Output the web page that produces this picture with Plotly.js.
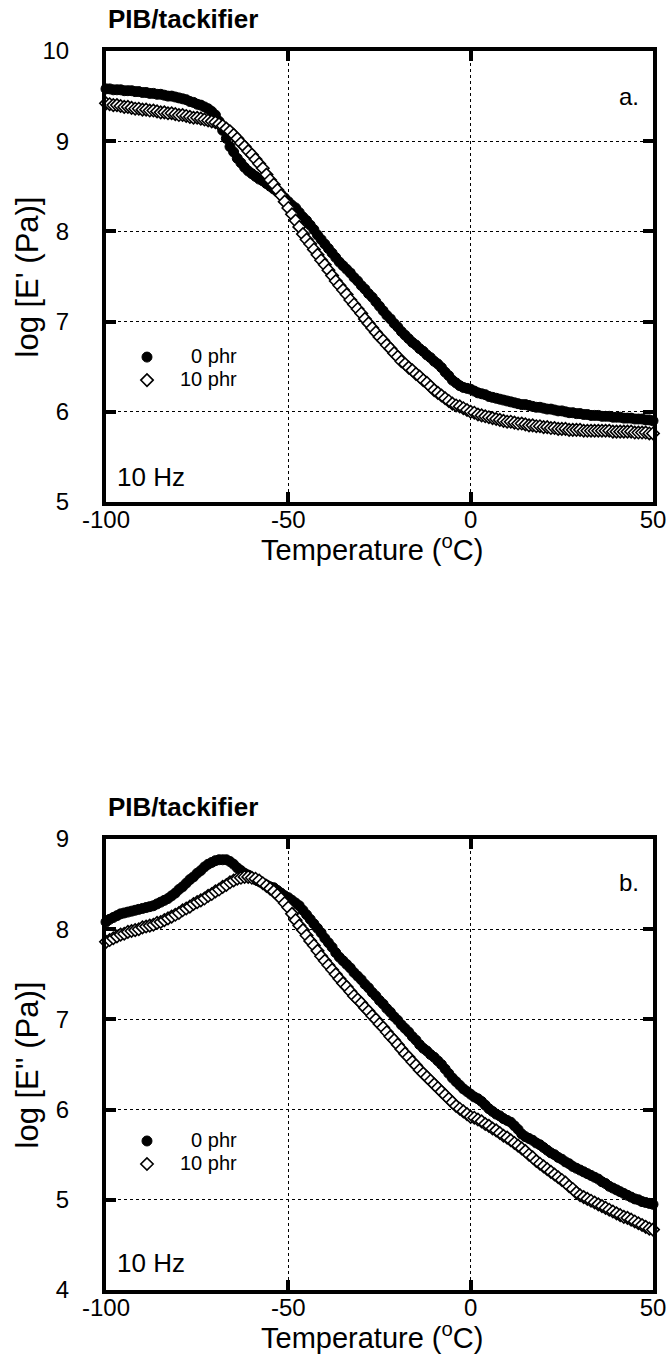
<!DOCTYPE html>
<html>
<head>
<meta charset="utf-8">
<script src="https://cdn.plot.ly/plotly-3.0.1.min.js"></script>
<style>html,body{margin:0;padding:0;background:#fff;}#chart{width:669px;height:1364px;}</style>
</head>
<body>
<div id="chart"></div>
<script>
// Temperature (°C)
const temperature = [
-100,-99,-98,-97,-96,-95,-94,-93,-92,-91,
-90,-89,-88,-87,-86,-85,-84,-83,-82,-81,
-80,-79,-78,-77,-76,-75,-74,-73,-72,-71,
-70,-69,-68,-67,-66,-65,-64,-63,-62,-61,
-60,-59,-58,-57,-56,-55,-54,-53,-52,-51,
-50,-49,-48,-47,-46,-45,-44,-43,-42,-41,
-40,-39,-38,-37,-36,-35,-34,-33,-32,-31,
-30,-29,-28,-27,-26,-25,-24,-23,-22,-21,
-20,-19,-18,-17,-16,-15,-14,-13,-12,-11,
-10,-9,-8,-7,-6,-5,-4,-3,-2,-1,
0,1,2,3,4,5,6,7,8,9,
10,11,12,13,14,15,16,17,18,19,
20,21,22,23,24,25,26,27,28,29,
30,31,32,33,34,35,36,37,38,39,
40,41,42,43,44,45,46,47,48,49,
50];

// log E' (Pa), 0 phr
const storage0phr = [
9.58,9.58,9.57,9.57,9.57,9.56,9.56,9.56,9.55,9.55,
9.54,9.54,9.53,9.53,9.52,9.52,9.51,9.50,9.50,9.49,
9.48,9.47,9.46,9.44,9.43,9.41,9.40,9.38,9.36,9.33,
9.29,9.22,9.12,9.03,8.94,8.88,8.81,8.76,8.71,8.67,
8.64,8.61,8.58,8.56,8.53,8.50,8.47,8.44,8.41,8.37,
8.33,8.29,8.26,8.21,8.16,8.12,8.07,8.02,7.96,7.91,
7.86,7.81,7.76,7.71,7.66,7.62,7.58,7.54,7.49,7.45,
7.40,7.36,7.31,7.27,7.22,7.17,7.12,7.07,7.03,6.98,
6.94,6.89,6.85,6.81,6.77,6.74,6.70,6.67,6.63,6.60,
6.56,6.53,6.49,6.44,6.40,6.35,6.32,6.29,6.27,6.26,
6.25,6.23,6.21,6.20,6.19,6.17,6.16,6.15,6.14,6.13,
6.12,6.11,6.10,6.09,6.08,6.08,6.07,6.06,6.05,6.05,
6.04,6.03,6.03,6.02,6.01,6.01,6.00,5.99,5.99,5.98,
5.98,5.97,5.97,5.96,5.96,5.96,5.95,5.95,5.95,5.94,
5.94,5.94,5.93,5.93,5.93,5.92,5.92,5.92,5.91,5.91,
5.90];

// log E' (Pa), 10 phr
const storage10phr = [
9.42,9.41,9.40,9.40,9.39,9.38,9.38,9.37,9.36,9.36,
9.35,9.35,9.34,9.34,9.33,9.32,9.32,9.31,9.31,9.30,
9.29,9.29,9.28,9.27,9.26,9.26,9.25,9.24,9.23,9.22,
9.21,9.19,9.17,9.14,9.11,9.07,9.03,8.98,8.94,8.89,
8.85,8.80,8.75,8.70,8.63,8.57,8.52,8.46,8.40,8.33,
8.26,8.19,8.12,8.05,7.97,7.91,7.86,7.80,7.74,7.68,
7.63,7.57,7.51,7.45,7.40,7.35,7.30,7.24,7.19,7.14,
7.09,7.03,6.98,6.93,6.88,6.83,6.79,6.74,6.70,6.65,
6.61,6.56,6.53,6.49,6.46,6.42,6.39,6.35,6.32,6.28,
6.24,6.21,6.18,6.15,6.12,6.09,6.07,6.06,6.04,6.02,
6.00,5.99,5.97,5.96,5.95,5.94,5.93,5.92,5.91,5.90,
5.89,5.89,5.88,5.87,5.87,5.86,5.85,5.85,5.84,5.84,
5.83,5.83,5.82,5.82,5.81,5.81,5.81,5.80,5.80,5.80,
5.80,5.79,5.79,5.79,5.79,5.79,5.79,5.79,5.79,5.78,
5.78,5.78,5.78,5.78,5.78,5.77,5.77,5.77,5.77,5.76,
5.76];

// log E'' (Pa), 0 phr
const loss0phr = [
8.08,8.11,8.13,8.15,8.17,8.18,8.19,8.20,8.21,8.22,
8.23,8.24,8.25,8.26,8.28,8.30,8.32,8.34,8.37,8.40,
8.44,8.47,8.51,8.55,8.58,8.62,8.65,8.69,8.72,8.74,
8.76,8.77,8.77,8.77,8.75,8.72,8.68,8.65,8.62,8.60,
8.57,8.55,8.53,8.51,8.49,8.47,8.46,8.43,8.40,8.37,
8.35,8.32,8.29,8.26,8.21,8.16,8.11,8.06,8.01,7.96,
7.90,7.85,7.80,7.74,7.69,7.65,7.61,7.57,7.52,7.48,
7.44,7.39,7.35,7.30,7.26,7.21,7.17,7.12,7.08,7.03,
6.99,6.94,6.90,6.86,6.81,6.77,6.72,6.68,6.65,6.61,
6.58,6.54,6.50,6.45,6.40,6.35,6.31,6.27,6.23,6.20,
6.17,6.14,6.12,6.09,6.05,6.01,5.98,5.95,5.93,5.90,
5.88,5.86,5.82,5.78,5.73,5.70,5.68,5.66,5.63,5.61,
5.58,5.55,5.52,5.50,5.47,5.45,5.42,5.40,5.37,5.35,
5.33,5.31,5.29,5.27,5.25,5.23,5.20,5.18,5.15,5.13,
5.11,5.09,5.07,5.05,5.03,5.01,5.00,4.98,4.97,4.96,
4.95];

// log E'' (Pa), 10 phr
const loss10phr = [
7.86,7.88,7.90,7.92,7.94,7.95,7.97,7.98,7.99,8.00,
8.02,8.03,8.04,8.05,8.07,8.08,8.10,8.12,8.14,8.16,
8.18,8.21,8.23,8.25,8.28,8.30,8.32,8.34,8.37,8.39,
8.42,8.44,8.47,8.49,8.52,8.54,8.56,8.57,8.58,8.58,
8.57,8.56,8.54,8.51,8.48,8.45,8.42,8.38,8.34,8.29,
8.24,8.17,8.10,8.04,7.99,7.93,7.87,7.82,7.76,7.70,
7.65,7.60,7.55,7.50,7.45,7.40,7.36,7.31,7.26,7.22,
7.18,7.13,7.09,7.04,7.00,6.95,6.91,6.86,6.81,6.77,
6.72,6.67,6.62,6.58,6.53,6.49,6.44,6.40,6.36,6.32,
6.28,6.24,6.20,6.16,6.12,6.08,6.04,6.01,5.98,5.95,
5.92,5.91,5.89,5.87,5.84,5.82,5.79,5.77,5.74,5.71,
5.69,5.66,5.63,5.60,5.57,5.54,5.50,5.47,5.43,5.40,
5.37,5.34,5.31,5.28,5.25,5.22,5.19,5.15,5.12,5.08,
5.05,5.03,5.01,4.99,4.97,4.95,4.93,4.91,4.89,4.87,
4.85,4.83,4.81,4.80,4.78,4.76,4.74,4.72,4.70,4.68,
4.67];

const seriesNames = ['\u00a0\u00a00 phr', '10 phr'];
const xTickVals = [-100, -50, 0, 50];
const xTickText = ['-100', '-50', '0', '50'];
const panelTitle = 'PIB/tackifier';
const freqLabel = '10 Hz';
const panelLabels = ['a.', 'b.'];
const xTitle = 'Temperature (<sup>o</sup>C)';
const yTitles = ["log [E' (Pa)]", "log [E'' (Pa)]"];

const FONT = 'Liberation Sans, Arial, Helvetica, sans-serif';

const filledMarker = {symbol: 'circle', size: 10, color: '#000', line: {color: '#000', width: 1}};
const openMarker = {symbol: 'diamond', size: 9.5, color: '#fff', line: {color: '#000', width: 1.6}};

function legendText(t) { return '<span style="font-size:20px">' + t + '</span>'; }

const traces = [
  {x: temperature, y: storage0phr, xaxis: 'x', yaxis: 'y', mode: 'markers', name: legendText(seriesNames[0]), marker: filledMarker, cliponaxis: false, legend: 'legend'},
  {x: temperature, y: storage10phr, xaxis: 'x', yaxis: 'y', mode: 'markers', name: legendText(seriesNames[1]), marker: openMarker, cliponaxis: false, legend: 'legend'},
  {x: temperature, y: loss0phr, xaxis: 'x2', yaxis: 'y2', mode: 'markers', name: legendText(seriesNames[0]), marker: filledMarker, cliponaxis: false, legend: 'legend2'},
  {x: temperature, y: loss10phr, xaxis: 'x2', yaxis: 'y2', mode: 'markers', name: legendText(seriesNames[1]), marker: openMarker, cliponaxis: false, legend: 'legend2'}
];

function xAxis(anchor) {
  return {
    anchor: anchor, domain: [0, 1], range: [-100, 50],
    tickmode: 'array', tickvals: xTickVals, ticktext: xTickText,
    ticks: 'inside', ticklen: 10, tickwidth: 4, tickcolor: '#000',
    showline: true, linewidth: 4, linecolor: '#000', mirror: 'ticks',
    showgrid: true, gridcolor: '#000', gridwidth: 1, griddash: '3px,3px',
    zeroline: false, tickfont: {family: FONT, size: 24, color: '#000'},
    ticklabelstandoff: -7
  };
}
function yAxis(anchor, domain, range) {
  return {
    anchor: anchor, domain: domain, range: range, dtick: 1, tick0: 0,
    ticks: 'inside', ticklen: 10, tickwidth: 4, tickcolor: '#000',
    showline: true, linewidth: 4, linecolor: '#000', mirror: 'ticks',
    showgrid: true, gridcolor: '#000', gridwidth: 1, griddash: '3px,3px',
    zeroline: false, tickfont: {family: FONT, size: 24, color: '#000'},
    ticklabelstandoff: 28
  };
}

const legendBase = {
  xanchor: 'left', yanchor: 'top', bgcolor: 'rgba(0,0,0,0)', borderwidth: 0,
  font: {family: FONT, size: 15.4, color: '#000'}, itemwidth: 56, tracegroupgap: 0
};

function ann(x, y, text, size, opts) {
  return Object.assign({xref: 'paper', yref: 'paper', x: x, y: y, xanchor: 'left', yanchor: 'middle',
    text: text, showarrow: false, font: {family: FONT, size: size, color: '#000'}}, opts || {});
}

const layout = {
  width: 669, height: 1364,
  margin: {l: 106, r: 16, t: 51, b: 74},
  paper_bgcolor: '#fff', plot_bgcolor: '#fff',
  font: {family: FONT, color: '#000'},
  showlegend: true,
  xaxis: xAxis('y'),
  yaxis: yAxis('x', [0.636, 1], [5, 10]),
  xaxis2: xAxis('y2'),
  yaxis2: yAxis('x2', [0, 0.364], [4, 9]),
  legend: Object.assign({x: 0.0146, y: 0.7663}, legendBase),
  legend2: Object.assign({x: 0.0146, y: 0.1336}, legendBase),
  annotations: [
    ann(0.0, 1.0258, '<b>' + panelTitle + '</b>', 26),
    ann(0.0, 0.3898, '<b>' + panelTitle + '</b>', 26),
    ann(0.956, 0.963, panelLabels[0], 24, {xanchor: 'center'}),
    ann(0.956, 0.329, panelLabels[1], 24, {xanchor: 'center'}),
    ann(0.017, 0.656, freqLabel, 26),
    ann(0.017, 0.0218, freqLabel, 26),
    ann(0.486, 0.5989, xTitle, 29, {xanchor: 'center'}),
    ann(0.486, -0.0371, xTitle, 29, {xanchor: 'center'}),
    ann(-0.1426, 0.818, yTitles[0], 31, {xanchor: 'center', textangle: -90}),
    ann(-0.1426, 0.182, yTitles[1], 31, {xanchor: 'center', textangle: -90})
  ]
};

Plotly.newPlot('chart', traces, layout, {displayModeBar: false, staticPlot: true});
</script>
</body>
</html>
